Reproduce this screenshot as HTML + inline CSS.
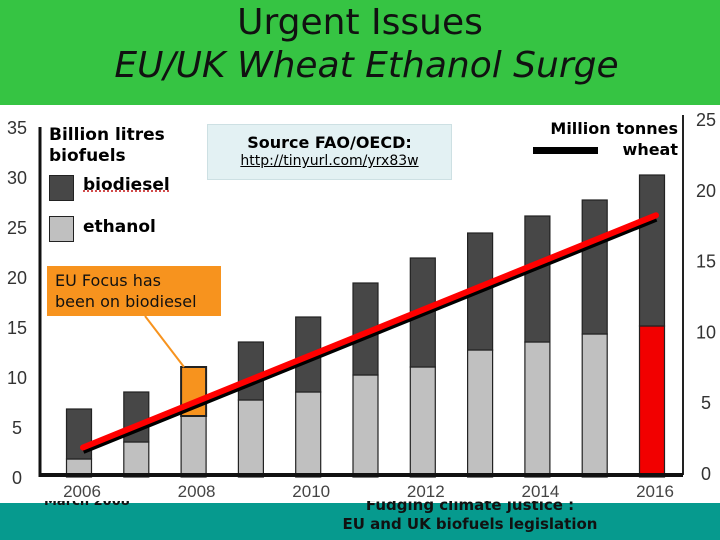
<!DOCTYPE html>
<html><head><meta charset="utf-8"><style>
body{margin:0;width:720px;height:540px;overflow:hidden;background:#fff;font-family:"DejaVu Sans","Liberation Sans",sans-serif;position:relative}
.abs{position:absolute}
</style></head><body>
<div class="abs" style="left:0;top:0;width:720px;height:105px;background:#36c443"></div>
<div class="abs" style="left:0;top:3px;width:720px;text-align:center;font-size:36px;line-height:40px;color:#111">Urgent Issues</div>
<div class="abs" style="left:0;top:46px;width:733px;text-align:center;font-size:36px;line-height:40px;font-style:italic;color:#111">EU/UK Wheat Ethanol Surge</div>
<div class="abs" style="left:0;top:503px;width:720px;height:37px;background:#069a8e"></div>
<div class="abs" style="left:44px;top:494px;font-size:13px;font-weight:bold;color:#111">March 2008</div>
<div class="abs" style="left:290px;top:496px;width:360px;text-align:center;font-size:15px;font-weight:bold;line-height:19px;color:#111">Fudging climate justice :<br>EU and UK biofuels legislation</div>
<div class="abs" style="left:0;top:105px;width:720px;height:373px;background:#fff"></div>
<div class="abs" style="left:30px;top:478px;width:660px;height:23px;background:#fff"></div>
<svg class="abs" style="left:0;top:0" width="720" height="540">
<g id="plot"></g>
</svg>
<div class="abs" style="left:49px;top:125px;font-size:17px;font-weight:bold;line-height:21px">Billion litres<br>biofuels</div>
<div class="abs" style="left:49px;top:175px;width:23px;height:24px;background:#474747;border:1px solid #222"></div>
<div class="abs" style="left:83px;top:175px;font-size:17px;font-weight:bold;text-decoration:underline dotted #c33">biodiesel</div>
<div class="abs" style="left:49px;top:216px;width:23px;height:24px;background:#c0c0c0;border:1px solid #222"></div>
<div class="abs" style="left:83px;top:217px;font-size:17px;font-weight:bold">ethanol</div>
<div class="abs" style="left:207px;top:124px;width:243px;height:54px;background:#e3f1f3;border:1px solid #cde0e3;text-align:center">
<div style="font-size:16px;font-weight:bold;margin-top:8px">Source FAO/OECD:</div>
<div style="font-size:14px;text-decoration:underline;margin-top:1px">http://tinyurl.com/yrx83w</div></div>
<div class="abs" style="left:47px;top:266px;width:174px;height:50px;background:#f7931e;font-size:16px;line-height:21px;color:#111;box-sizing:border-box;padding:4px 8px">EU Focus has<br>been on biodiesel</div>
<div class="abs" style="left:520px;top:118px;width:158px;text-align:right;font-size:16px;font-weight:bold;line-height:21px">Million tonnes<br>wheat</div>
<div class="abs" style="left:533px;top:147px;width:65px;height:7px;background:#000"></div>
<script>
const years=["2006","2007","2008","2009","2010","2011","2012","2013","2014","2015","2016"];
const ethanol=[1.8,3.5,6.1,7.7,8.5,10.2,11.0,12.7,13.5,14.3,15.1];
const biodiesel=[5.0,5.0,4.9,5.8,7.5,9.2,10.9,11.7,12.6,13.4,15.1];
const wheatYears=[2006,2016];
const wheat=[1.8,18.2];
const leftTicks=[0,5,10,15,20,25,30,35];
const rightTicks=[0,5,10,15,20,25];
const xLabels=["2006","2008","2010","2012","2014","2016"];
const NS="http://www.w3.org/2000/svg";
const g=document.getElementById('plot');
const yL=v=>477-v*10;
const yR=v=>473-v*14.16;
const xB=i=>79+i*57.3;
const xY=y=>xB(y-2006);
function el(t,a){const e=document.createElementNS(NS,t);for(const k in a)e.setAttribute(k,a[k]);g.appendChild(e);return e;}
let e;
e=el('line',{x1:40,y1:127,x2:40,y2:477,stroke:'#111','stroke-width':3});


e=el('line',{x1:683,y1:115,x2:683,y2:475,stroke:'#222','stroke-width':2});


leftTicks.forEach(v=>{const t=el('text',{x:17,y:yL(v)+7,'text-anchor':'middle','font-size':18,fill:'#333','font-family':'Liberation Sans Narrow,Liberation Sans,sans-serif'});t.textContent=v;

});
rightTicks.forEach(v=>{const t=el('text',{x:706,y:yR(v)+7,'text-anchor':'middle','font-size':18,fill:'#333','font-family':'Liberation Sans Narrow,Liberation Sans,sans-serif'});t.textContent=v;

});
years.forEach((y,i)=>{
 const x=xB(i)-12.5;
 const r1=el('rect',{x:x,y:yL(ethanol[i]),width:25,height:yL(0)-yL(ethanol[i]),fill:i==10?'#f20000':'#c0c0c0',stroke:'#222','stroke-width':1.2});
 
 
 const top=ethanol[i]+biodiesel[i];
 const r2=el('rect',{x:x,y:yL(top),width:25,height:yL(ethanol[i])-yL(top),fill:i==2?'#f7931e':'#474747',stroke:'#222','stroke-width':i==2?2:1.2});
 
 
});
e=el('line',{x1:40,y1:475,x2:683,y2:475,stroke:'#111','stroke-width':4});


xLabels.forEach(l=>{const t=el('text',{x:xY(+l)+3,y:497,'text-anchor':'middle','font-size':17,fill:'#444','font-family':'Liberation Sans Narrow,Liberation Sans,sans-serif'});t.textContent=l;

});
e=el('line',{x1:145,y1:316,x2:184,y2:367,stroke:'#f7931e','stroke-width':2});


const pts=wheatYears.map((y,i)=>(xY(y)+4)+','+yR(wheat[i])).join(' ');
const ptsS=wheatYears.map((y,i)=>(xY(y)+4)+','+(yR(wheat[i])+3)).join(' ');
e=el('polyline',{points:ptsS,fill:'none',stroke:'#000','stroke-width':7});


e=el('polyline',{points:pts,fill:'none',stroke:'#ff0000','stroke-width':6,'stroke-linecap':'round'});


</script>
</body></html>
